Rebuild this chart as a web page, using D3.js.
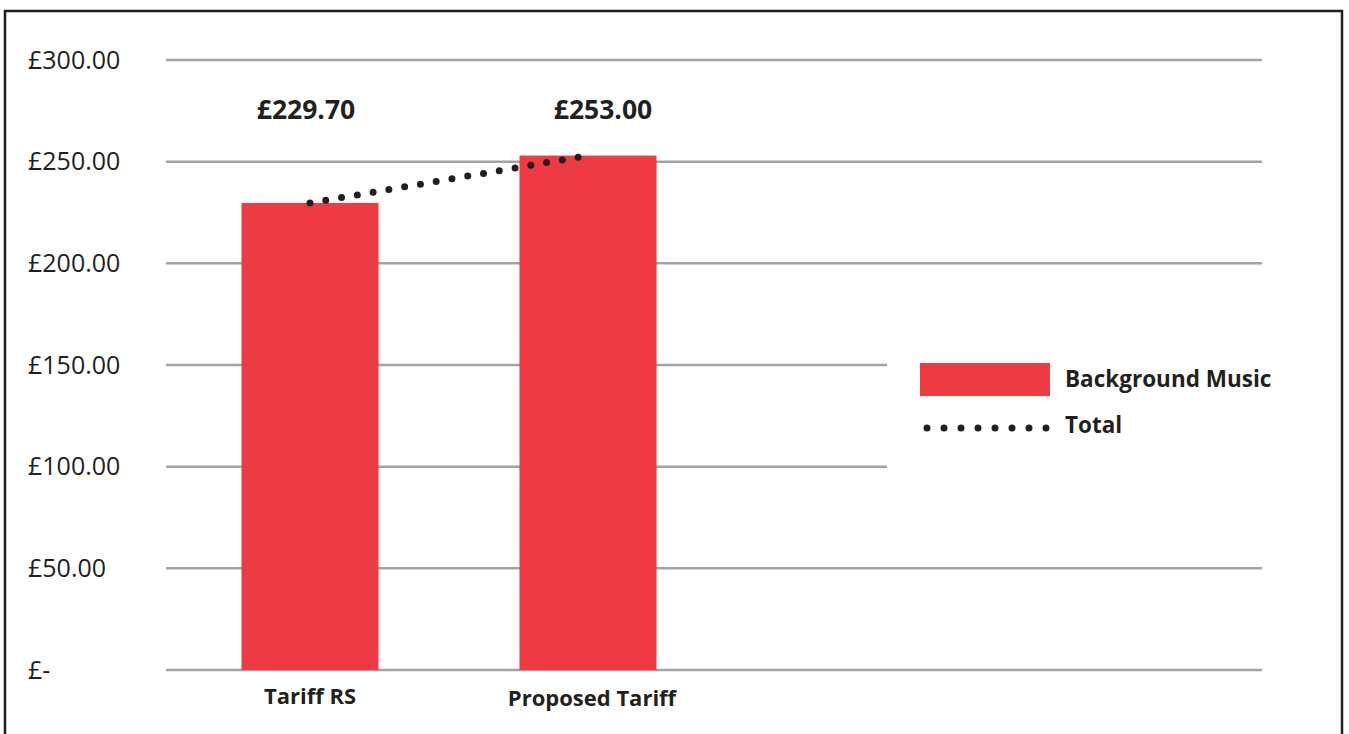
<!DOCTYPE html>
<html>
<head>
<meta charset="utf-8">
<script src="https://cdn.jsdelivr.net/npm/d3@7"></script>
<style>
  html, body { margin: 0; padding: 0; background: #fff; }
  svg { display: block; }
  text { font-family: "Open Sans", "DejaVu Sans", sans-serif; fill: #231f20; }
</style>
</head>
<body>
<div id="chart"></div>
<script>
// chart data
const categories = ["Tariff RS", "Proposed Tariff"];
const backgroundMusic = [229.70, 253.00];
const totals = [229.70, 253.00];
const valueLabels = ["£229.70", "£253.00"];
const yTicks = [0, 50, 100, 150, 200, 250, 300];
const yTickLabels = ["£-", "£50.00", "£100.00", "£150.00", "£200.00", "£250.00", "£300.00"];
const legendItems = ["Background Music", "Total"];

const width = 1349, height = 734;
const red = "#ee3b43", ink = "#231f20", grid = "#a3a3a5";

const svg = d3.select("#chart").append("svg")
    .attr("width", width)
    .attr("height", height);

// outer frame
svg.append("rect")
    .attr("x", 5).attr("y", 11)
    .attr("width", 1337).attr("height", 740)
    .attr("fill", "none")
    .attr("stroke", ink)
    .attr("stroke-width", 2.5);

// scales
const y = d3.scaleLinear().domain([0, 300]).range([670, 60]);
const x = d3.scaleBand()
    .domain(categories)
    .range([171, 727])
    .paddingInner(0.507)
    .paddingOuter(0.2535);

// gridlines (the 100 and 150 lines stop short at the legend)
svg.append("g").selectAll("line")
    .data(yTicks)
    .join("line")
    .attr("x1", 166)
    .attr("x2", d => (d === 100 || d === 150) ? 887 : 1262)
    .attr("y1", d => y(d))
    .attr("y2", d => y(d))
    .attr("stroke", grid)
    .attr("stroke-width", 2.5);

// y tick labels
svg.append("g").selectAll("text")
    .data(yTicks)
    .join("text")
    .attr("x", 28)
    .attr("y", d => y(d))
    .attr("dy", "0.35em")
    .style("font-size", "25px")
    .text((d, i) => yTickLabels[i]);

// bars
svg.append("g").selectAll("rect")
    .data(backgroundMusic)
    .join("rect")
    .attr("x", (d, i) => x(categories[i]))
    .attr("y", d => y(d))
    .attr("width", x.bandwidth())
    .attr("height", d => y(0) - y(d))
    .attr("fill", red);

// total dotted line
const line = d3.line()
    .x((d, i) => x(categories[i]) + x.bandwidth() / 2)
    .y(d => y(d));
svg.append("path")
    .datum(totals)
    .attr("d", line)
    .attr("fill", "none")
    .attr("stroke", ink)
    .attr("stroke-width", 7)
    .attr("stroke-linecap", "round")
    .attr("stroke-dasharray", "0 16");

// value labels sit on a common row above the plot
const labelNudge = [-4, 15];
svg.append("g").selectAll("text")
    .data(valueLabels)
    .join("text")
    .attr("x", (d, i) => x(categories[i]) + x.bandwidth() / 2 + labelNudge[i])
    .attr("y", 119)
    .attr("text-anchor", "middle")
    .style("font-size", "26.5px")
    .style("font-weight", "bold")
    .text(d => d);

// category labels
svg.append("g").selectAll("text")
    .data(categories)
    .join("text")
    .attr("x", (d, i) => x(d) + x.bandwidth() / 2 + (i === 1 ? 4 : 0))
    .attr("y", (d, i) => 704 + i * 2)
    .attr("text-anchor", "middle")
    .style("font-size", "22px")
    .style("font-weight", "bold")
    .text(d => d);

// legend
const legend = svg.append("g").attr("transform", "translate(920,363)");
legend.append("rect")
    .attr("width", 130).attr("height", 33)
    .attr("fill", red);
legend.append("line")
    .attr("x1", 7).attr("x2", 127)
    .attr("y1", 65).attr("y2", 65)
    .attr("stroke", ink)
    .attr("stroke-width", 7)
    .attr("stroke-linecap", "round")
    .attr("stroke-dasharray", "0 17");
legend.selectAll("text.lbl")
    .data(legendItems)
    .join("text")
    .attr("class", "lbl")
    .attr("x", 145)
    .attr("y", (d, i) => 16 + i * 46)
    .attr("dy", "0.35em")
    .style("font-size", "22.5px")
    .style("font-weight", "bold")
    .text(d => d);
</script>
</body>
</html>
